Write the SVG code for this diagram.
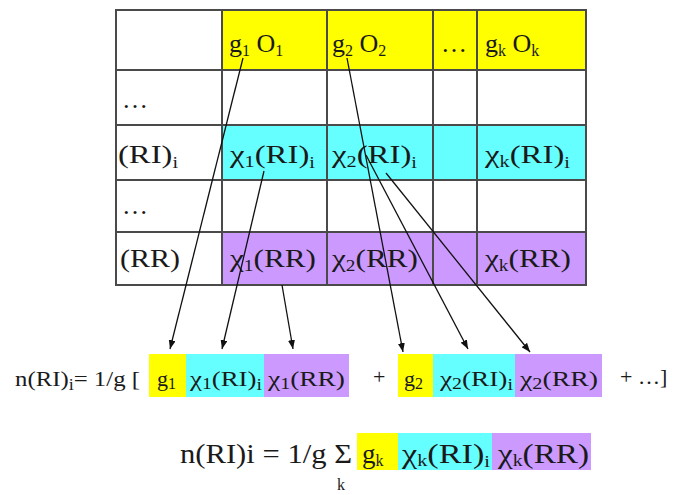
<svg xmlns="http://www.w3.org/2000/svg" width="676" height="495" viewBox="0 0 676 495">
<defs>
<marker id="ah" markerWidth="9" markerHeight="7" refX="9" refY="3.5" orient="auto" markerUnits="userSpaceOnUse">
<path d="M0,0 L9,3.5 L0,7 Z" fill="#111"/>
</marker>
<style>
.t{font-family:"Liberation Serif","Times New Roman",serif;fill:#1a1a1a;font-size:26px}
.e{font-family:"Liberation Serif","Times New Roman",serif;fill:#1a1a1a;font-size:22px}
.b{font-family:"Liberation Serif","Times New Roman",serif;fill:#1a1a1a;font-size:27px}
.s{font-size:16px}
.y{fill:#ffff00}
.c{fill:#66ffff}
.p{fill:#cc99ff}
.g{stroke:#4a4a4a;stroke-width:2;fill:none}
.a{stroke:#111;stroke-width:1.3;fill:none;marker-end:url(#ah)}
</style>
</defs>
<rect width="676" height="495" fill="#fff"/>
<g id="table">
<rect class="y" x="222" y="10" width="364" height="60"/>
<rect class="c" x="222" y="125" width="364" height="55"/>
<rect class="p" x="222" y="232" width="364" height="53"/>
<path class="g" d="M115,10H587M115,70H587M115,125H587M115,180H587M115,232H587M115,285H587M116,10V285M222,10V285M327,10V285M433,10V285M477,10V285M586,10V285"/>
</g>
<g id="h1"><text class="t" x="229" y="52">g<tspan class="s" dy="4">1</tspan><tspan dy="-4"> O</tspan><tspan class="s" dy="4">1</tspan></text></g>
<g id="h2"><text class="t" x="332" y="52">g<tspan class="s" dy="4">2</tspan><tspan dy="-4"> O</tspan><tspan class="s" dy="4">2</tspan></text></g>
<g id="h3"><text class="t" x="441" y="52">…</text></g>
<g id="hk"><text class="t" x="485" y="52">g<tspan class="s" dy="4">k</tspan><tspan dy="-4"> O</tspan><tspan class="s" dy="4">k</tspan></text></g>
<g id="r1"><text class="t" x="122" y="108">…</text></g>
<g id="r2"><text class="t" x="118" y="163" textLength="60" lengthAdjust="spacingAndGlyphs">(RI)<tspan class="s" dy="5">i</tspan></text></g>
<g id="r3"><text class="t" x="122" y="214">…</text></g>
<g id="r4"><text class="t" x="120" y="267" textLength="60" lengthAdjust="spacingAndGlyphs">(RR)</text></g>
<g id="c11"><text class="t" x="230" y="163" textLength="85" lengthAdjust="spacingAndGlyphs">χ<tspan class="s" dy="4">1</tspan><tspan dy="-4">(RI)</tspan><tspan class="s" dy="5">i</tspan></text></g>
<g id="c12"><text class="t" x="332" y="163" textLength="85" lengthAdjust="spacingAndGlyphs">χ<tspan class="s" dy="4">2</tspan><tspan dy="-4">(RI)</tspan><tspan class="s" dy="5">i</tspan></text></g>
<g id="c1k"><text class="t" x="485" y="163" textLength="85" lengthAdjust="spacingAndGlyphs">χ<tspan class="s" dy="4">k</tspan><tspan dy="-4">(RI)</tspan><tspan class="s" dy="5">i</tspan></text></g>
<g id="c21"><text class="t" x="230" y="267" textLength="86" lengthAdjust="spacingAndGlyphs">χ<tspan class="s" dy="4">1</tspan><tspan dy="-4">(RR)</tspan></text></g>
<g id="c22"><text class="t" x="332" y="267" textLength="86" lengthAdjust="spacingAndGlyphs">χ<tspan class="s" dy="4">2</tspan><tspan dy="-4">(RR)</tspan></text></g>
<g id="c2k"><text class="t" x="485" y="267" textLength="86" lengthAdjust="spacingAndGlyphs">χ<tspan class="s" dy="4">k</tspan><tspan dy="-4">(RR)</tspan></text></g>
<g id="eq1">
<text class="e" x="15" y="386" textLength="125" lengthAdjust="spacingAndGlyphs">n(RI)<tspan class="s" dy="4">i</tspan><tspan dy="-4">=  1/g [</tspan></text>
</g>
<g id="b1"><rect class="y" x="149" y="354" width="37" height="43"/><text class="e" x="157" y="386">g<tspan class="s" dy="3">1</tspan></text></g>
<g id="b2"><rect class="c" x="186" y="354" width="78" height="43"/><text class="e" x="190" y="386" textLength="72" lengthAdjust="spacingAndGlyphs">χ<tspan class="s" dy="3">1</tspan><tspan dy="-3">(RI)</tspan><tspan class="s" dy="4">i</tspan></text></g>
<g id="b3"><rect class="p" x="264" y="354" width="85" height="43"/><text class="e" x="268" y="386" textLength="77" lengthAdjust="spacingAndGlyphs">χ<tspan class="s" dy="3">1</tspan><tspan dy="-3">(RR)</tspan></text></g>
<g id="plus1"><text class="e" x="373" y="384">+</text></g>
<g id="b4"><rect class="y" x="398" y="354" width="35" height="43"/><text class="e" x="404" y="386">g<tspan class="s" dy="3">2</tspan></text></g>
<g id="b5"><rect class="c" x="433" y="354" width="82" height="43"/><text class="e" x="440" y="386" textLength="73" lengthAdjust="spacingAndGlyphs">χ<tspan class="s" dy="3">2</tspan><tspan dy="-3">(RI)</tspan><tspan class="s" dy="4">i</tspan></text></g>
<g id="b6"><rect class="p" x="515" y="354" width="87" height="43"/><text class="e" x="520" y="386" textLength="78" lengthAdjust="spacingAndGlyphs">χ<tspan class="s" dy="3">2</tspan><tspan dy="-3">(RR)</tspan></text></g>
<g id="plus2"><text class="e" x="620" y="384">+ …]</text></g>
<g id="eq2">
<text class="b" x="180" y="463" textLength="172" lengthAdjust="spacingAndGlyphs">n(RI)i = 1/g Σ</text>
<text class="b" x="337" y="490" style="font-size:16px">k</text>
</g>
<g id="b7"><rect class="y" x="357" y="433" width="41" height="37"/><text class="b" x="362" y="463">g<tspan class="s" dy="3">k</tspan></text></g>
<g id="b8"><rect class="c" x="398" y="433" width="94" height="37"/><text class="b" x="402" y="463" textLength="88" lengthAdjust="spacingAndGlyphs">χ<tspan class="s" dy="3">k</tspan><tspan dy="-3">(RI)</tspan><tspan class="s" dy="4">i</tspan></text></g>
<g id="b9"><rect class="p" x="492" y="433" width="99" height="37"/><text class="b" x="498" y="463" textLength="91" lengthAdjust="spacingAndGlyphs">χ<tspan class="s" dy="3">k</tspan><tspan dy="-3">(RR)</tspan></text></g>
<g id="connectors">
<line class="a" x1="243" y1="58" x2="170" y2="349"/>
<line class="a" x1="264" y1="171" x2="222" y2="349"/>
<line class="a" x1="282" y1="285" x2="293" y2="349"/>
<line class="a" x1="347" y1="58" x2="403" y2="352"/>
<line class="a" x1="366" y1="155" x2="468" y2="349"/>
<line class="a" x1="386" y1="173" x2="530" y2="352"/>
</g>
</svg>
